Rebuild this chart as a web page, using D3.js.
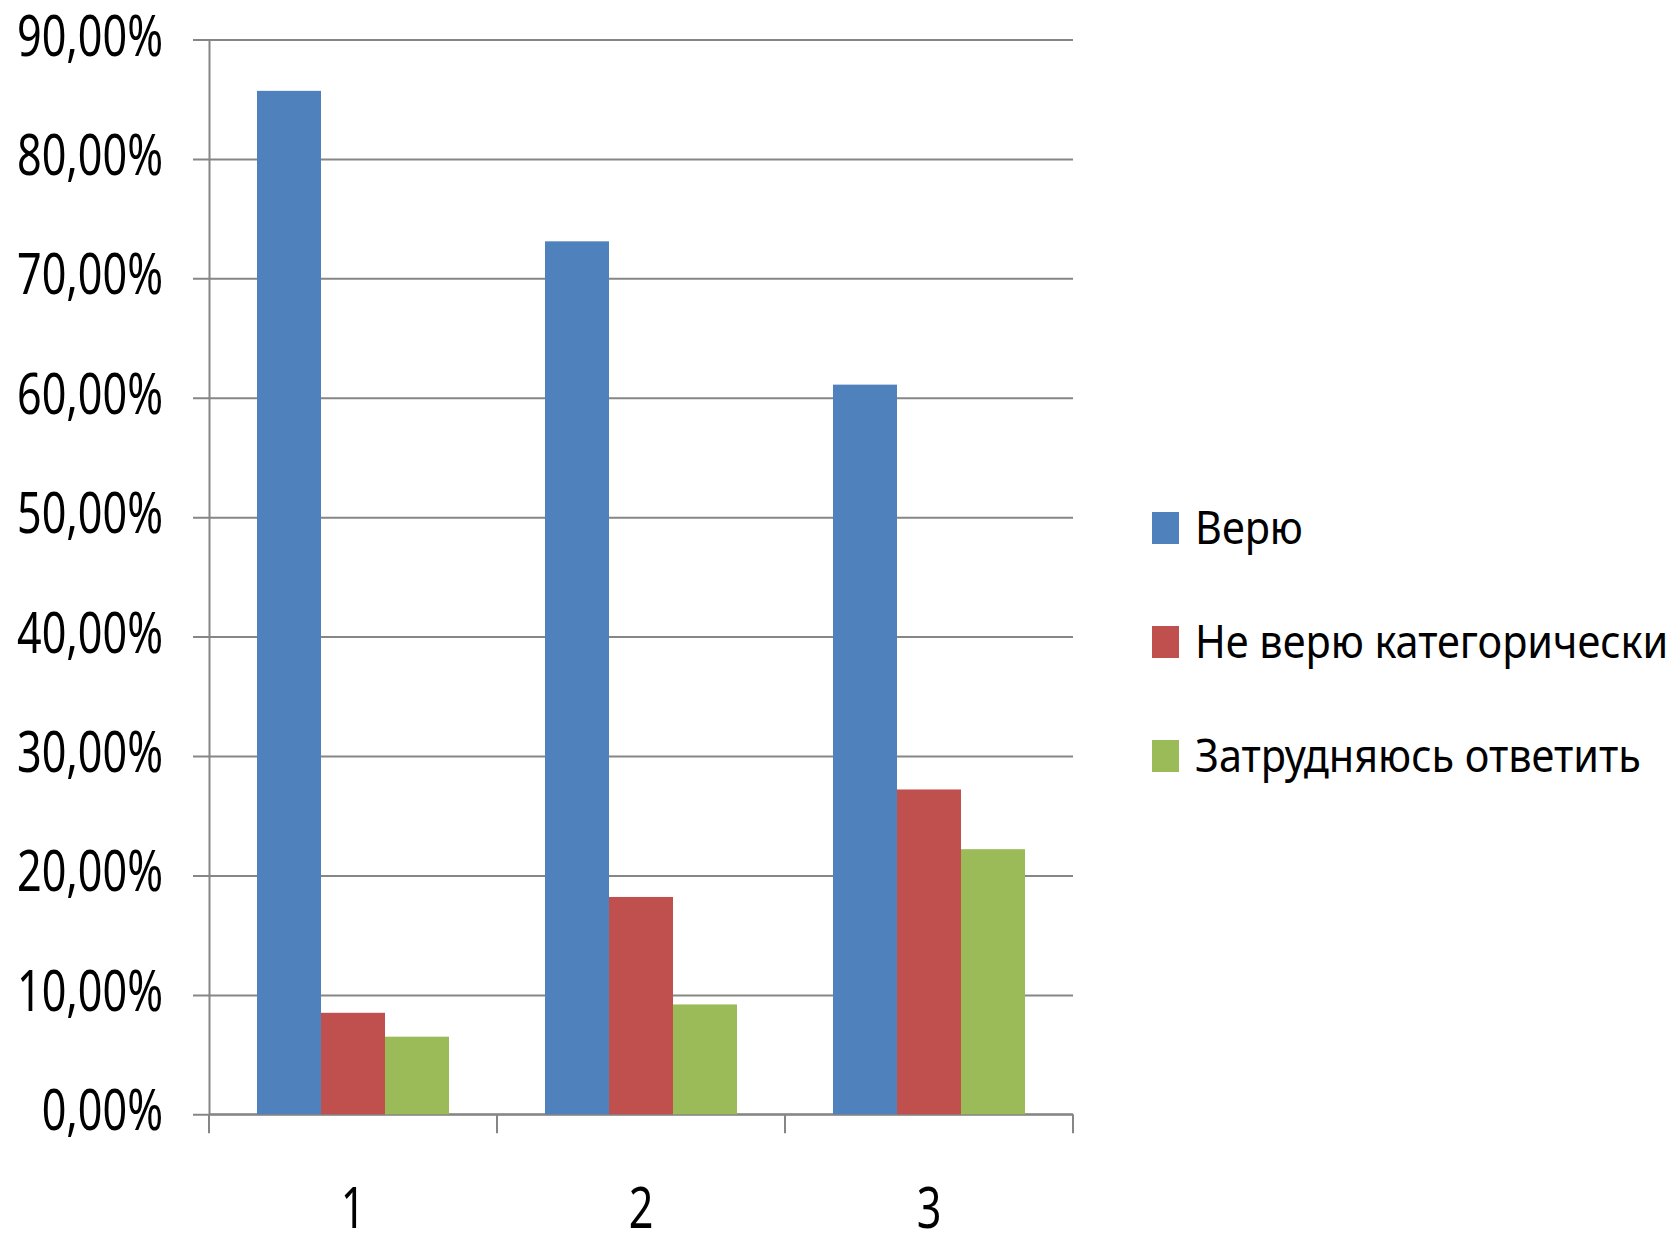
<!DOCTYPE html>
<html>
<head>
<meta charset="utf-8">
<script src="https://cdn.jsdelivr.net/npm/d3@7"></script>
<style>
    body { margin: 0; background: #fff; }
    svg text { font-family: "Noto Sans", "Open Sans", sans-serif; fill: #000; }
</style>
</head>
<body>
<svg id="chart"></svg>
<script>
const categories = ["1", "2", "3"];
const seriesNames = ["Верю", "Не верю категорически", "Затрудняюсь ответить"];
const veryu = [0.857, 0.731, 0.611];
const neVeryu = [0.085, 0.182, 0.272];
const zatrudnyayus = [0.065, 0.092, 0.222];
const seriesColors = ["#4F81BD", "#C0504D", "#9BBB59"];
const yTickValues = [0, 0.1, 0.2, 0.3, 0.4, 0.5, 0.6, 0.7, 0.8, 0.9];

class GroupedBars {
    margin = {
        top: 39.5, right: 606, bottom: 121.7, left: 209
    }

    constructor(svg, width = 1679, height = 1236) {
        this.svg = d3.select(svg);
        this.width = width;
        this.height = height;
        this.innerWidth = width - this.margin.left - this.margin.right;
        this.innerHeight = height - this.margin.top - this.margin.bottom;
    }

    initialize() {
        this.svg
            .attr("width", this.width)
            .attr("height", this.height);

        this.yAxis = this.svg.append("g");
        this.xAxis = this.svg.append("g");
        this.container = this.svg.append("g");
        this.legend = this.svg.append("g");

        this.container.attr("transform", `translate(${this.margin.left}, ${this.margin.top})`);
    }

    update() {
        const values = [veryu, neVeryu, zatrudnyayus];
        const rows = categories.map((c, i) => ({
            category: c,
            values: seriesNames.map((s, j) => ({ key: s, value: values[j][i] }))
        }));

        const ruLocale = d3.formatLocale({ decimal: ",", thousands: " ", grouping: [3], currency: ["", " ₽"] });
        const pct = ruLocale.format(".2%");

        this.x0 = d3.scaleBand()
            .domain(categories)
            .range([0, this.innerWidth])
            .paddingInner(1 / 3)
            .paddingOuter(1 / 6);

        this.x1 = d3.scaleBand()
            .domain(seriesNames)
            .range([0, this.x0.bandwidth()]);

        this.yScale = d3.scaleLinear()
            .domain([0, 0.9])
            .range([this.innerHeight, 0]);

        const color = d3.scaleOrdinal()
            .domain(seriesNames)
            .range(seriesColors);

        // y axis + gridlines
        this.yAxis
            .attr("transform", `translate(${this.margin.left}, ${this.margin.top})`)
            .call(d3.axisLeft(this.yScale)
                .tickValues(yTickValues)
                .tickFormat(pct)
                .tickSize(16)
                .tickSizeOuter(0)
                .tickPadding(30))
            .call(g => g.select(".domain").attr("stroke", "#868686").attr("stroke-width", 2))
            .call(g => g.selectAll(".tick line")
                .attr("x1", this.innerWidth)
                .attr("stroke", "#868686")
                .attr("stroke-width", 2))
            .call(g => g.selectAll(".tick text")
                .attr("font-size", 56)
                .attr("dy", null)
                .attr("y", 15.5)
                .attr("transform", "scale(0.77, 1)")
                .attr("x", -46 / 0.77));

        // x axis: ticks sit between categories
        const step = this.x0.step();
        const bounds = d3.range(categories.length + 1).map(i => i * step);

        this.xAxis
            .attr("transform", `translate(${this.margin.left}, ${this.margin.top + this.innerHeight})`);

        this.xAxis.append("line")
            .attr("x1", 0)
            .attr("x2", this.innerWidth)
            .attr("stroke", "#868686")
            .attr("stroke-width", 2);

        this.xAxis.selectAll("line.tick")
            .data(bounds)
            .join("line")
            .attr("class", "tick")
            .attr("x1", d => d)
            .attr("x2", d => d)
            .attr("y1", 0)
            .attr("y2", 19)
            .attr("stroke", "#868686")
            .attr("stroke-width", 2);

        this.xAxis.selectAll("text")
            .data(categories)
            .join("text")
            .attr("transform", d => `translate(${this.x0(d) + this.x0.bandwidth() / 2}, 114) scale(0.77, 1)`)
            .attr("text-anchor", "middle")
            .attr("font-size", 56)
            .text(d => d);

        // bars
        const groups = this.container.selectAll("g.group")
            .data(rows)
            .join("g")
            .attr("class", "group")
            .attr("transform", d => `translate(${this.x0(d.category)}, 0)`);

        groups.selectAll("rect")
            .data(d => d.values)
            .join("rect")
            .attr("x", d => this.x1(d.key))
            .attr("y", d => this.yScale(d.value))
            .attr("width", this.x1.bandwidth())
            .attr("height", d => this.innerHeight - this.yScale(d.value))
            .attr("fill", d => color(d.key));

        // legend
        const legendItems = this.legend.selectAll(".legend-item")
            .data(seriesNames)
            .join("g")
            .attr("class", "legend-item")
            .attr("transform", (d, i) => `translate(1152, ${544 + i * 114})`);

        legendItems.append("rect")
            .attr("x", 0)
            .attr("y", -32)
            .attr("width", 27)
            .attr("height", 32)
            .attr("fill", d => color(d));

        legendItems.append("text")
            .attr("transform", "translate(43, 0) scale(0.9, 1)")
            .attr("font-size", 46)
            .text(d => d);
    }
}

const chart = new GroupedBars(document.getElementById("chart"));
chart.initialize();
chart.update();
</script>
</body>
</html>
